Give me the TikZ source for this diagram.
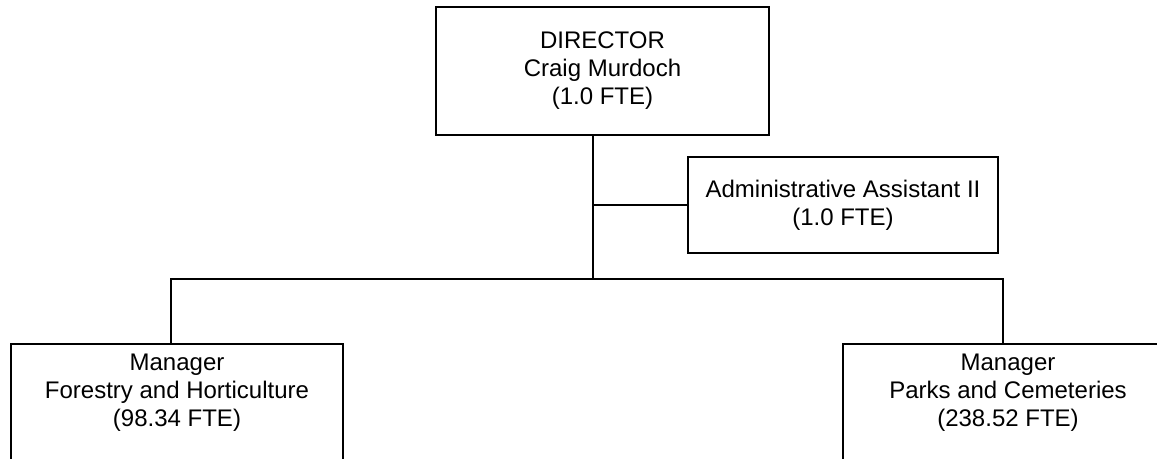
\documentclass[tikz,border=0pt]{standalone}
\usepackage{fontspec}
\setmainfont{Liberation Sans}
\begin{document}
\begin{tikzpicture}[x=1pt,y=-1pt,
  line width=1.5pt,
  box/.style={draw=black, rectangle, inner sep=0pt, line width=1.5pt},
  label/.style={align=center, inner sep=0pt, font=\fontsize{24}{28}\selectfont},
  link/.style={draw=black, line width=1.5pt}]
  \useasboundingbox (0,0) rectangle (1157,458);
  \clip (0,0) rectangle (1157,458);

  % Director
  \node[box, label, minimum width=333pt, minimum height=128pt] (dir) at (602.5,71)
    {DIRECTOR\\Craig Murdoch\\(1.0 FTE)};

  % Administrative assistant
  \node[box, label, minimum width=310pt, minimum height=96pt] (admin) at (843,205)
    {Administrative Assistant II\\(1.0 FTE)};

  % Managers (boxes run past the lower edge)
  \node[box, minimum width=332pt, minimum height=200pt, anchor=north] (fh) at (177,343) {};
  \node[label] (fhtext) at (177,393) {Manager\\Forestry and Horticulture\\(98.34 FTE)};

  \node[box, minimum width=330pt, minimum height=200pt, anchor=north] (pc) at (1008,343) {};
  \node[label] (pctext) at (1008,393) {Manager\\Parks and Cemeteries\\(238.52 FTE)};

  % Connector points
  \coordinate (trunk) at (593,279);
  \coordinate (lbar) at (171,279);
  \coordinate (rbar) at (1003,279);

  \draw[link] (dir.south -| trunk) -- (trunk);
  \draw[link] (admin.west) -- (admin.west -| trunk);
  \draw[link] (lbar |- fh.north) -- (lbar) -- (rbar) -- (rbar |- pc.north);
\end{tikzpicture}
\end{document}
